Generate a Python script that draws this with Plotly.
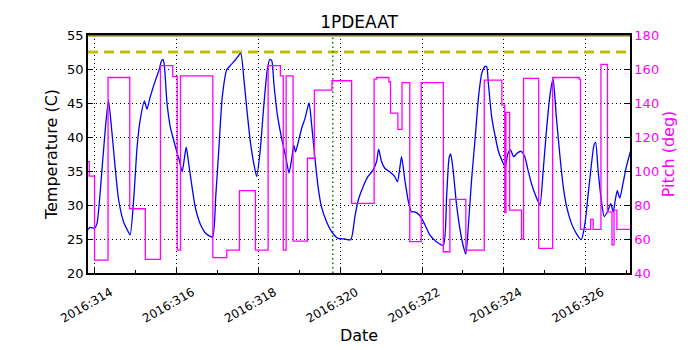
import plotly.graph_objects as go

# ---- data (day of year 2016) ----
temp_day = [313.84, 313.89, 314.0, 314.06, 314.18, 314.26, 314.34, 314.42, 314.51, 314.59, 314.71, 314.82, 314.87,
            314.96, 315.04, 315.12, 315.22, 315.28, 315.36, 315.49, 315.58, 315.63, 315.67, 315.70, 315.77, 315.85,
            315.93, 316.02, 316.07, 316.14, 316.20, 316.24, 316.30, 316.38, 316.45, 316.51, 316.59, 316.72, 316.88,
            316.96, 317.04, 317.12, 317.23, 317.33, 317.45, 317.57, 317.65, 317.73, 317.81, 317.89, 317.96, 318.04,
            318.14, 318.22, 318.28, 318.33, 318.38, 318.46, 318.56, 318.67, 318.75, 318.81, 318.87, 318.91, 318.99,
            319.07, 319.14, 319.24, 319.30, 319.38, 319.46, 319.54, 319.67, 319.79, 319.95, 320.11, 320.26, 320.36,
            320.44, 320.56, 320.68, 320.80, 320.89, 320.94, 321.01, 321.09, 321.21, 321.33, 321.40, 321.46, 321.50,
            321.58, 321.66, 321.74, 321.82, 321.94, 322.07, 322.19, 322.35, 322.52, 322.60, 322.66, 322.70, 322.76,
            322.84, 322.93, 323.01, 323.07, 323.13, 323.21, 323.30, 323.38, 323.46, 323.54, 323.58, 323.62, 323.70,
            323.79, 323.87, 323.95, 324.03, 324.10, 324.16, 324.24, 324.32, 324.42, 324.51, 324.59, 324.67, 324.80,
            324.88, 324.96, 325.04, 325.12, 325.20, 325.28, 325.37, 325.45, 325.53, 325.65, 325.77, 325.89, 325.98,
            326.06, 326.14, 326.20, 326.24, 326.30, 326.38, 326.45, 326.53, 326.61, 326.67, 326.72, 326.77, 326.83,
            326.91, 326.99, 327.10]
temp_c = [26.4, 26.7, 26.6, 27.3, 35.1, 41.0, 45.4, 41.0, 35.1, 30.7, 27.5, 26.1, 25.6,
          31.2, 38.6, 42.7, 45.3, 44.1, 45.9, 48.4, 49.9, 51.1, 51.4, 50.8, 45.0, 41.5,
          39.6, 37.6, 36.6, 34.9, 37.1, 38.5, 36.1, 32.7, 30.0, 28.5, 27.1, 25.8, 25.3,
          31.2, 38.6, 45.9, 49.9, 50.6, 51.4, 52.3, 48.4, 43.5, 39.1, 36.1, 34.2, 37.6,
          45.0, 49.9, 51.4, 51.2, 47.9, 43.5, 40.1, 37.1, 34.7, 36.6, 38.8, 37.8, 39.6,
          41.5, 42.7, 45.0, 42.0, 37.1, 32.7, 29.8, 27.5, 26.1, 25.1, 25.0, 24.9, 28.3,
          30.7, 32.7, 34.2, 35.1, 36.4, 38.2, 36.4, 35.4, 34.9, 34.2, 33.4, 35.6, 37.1,
          33.7, 30.7, 29.0, 29.0, 28.5, 27.1, 25.6, 24.6, 24.1, 31.2, 36.9, 37.5, 35.1,
          30.2, 26.3, 23.9, 22.8, 26.8, 33.7, 40.0, 45.9, 49.4, 50.4, 50.3, 47.9, 43.0,
          40.0, 37.8, 36.6, 35.6, 37.6, 38.1, 37.1, 37.6, 37.9, 37.1, 35.1, 33.2, 31.0,
          30.0, 35.1, 41.0, 45.9, 48.6, 43.0, 37.1, 32.7, 29.8, 27.3, 25.8, 24.9, 27.3,
          31.7, 36.1, 38.8, 39.2, 35.1, 30.7, 28.3, 29.0, 30.2, 29.0, 30.7, 32.1, 31.0,
          33.2, 35.6, 38.1]

pitch_day = [313.84, 313.87, 314.0, 314.33, 314.86, 315.24, 315.61, 315.91, 316.02, 316.10, 316.89, 317.23,
             317.54, 317.93, 318.24, 318.54, 318.61, 318.68, 318.85, 319.20, 319.37, 319.80, 320.28, 320.83,
             320.89, 321.19, 321.23, 321.41, 321.51, 321.70, 321.98, 322.52, 322.68, 323.07, 323.52, 323.95,
             324.02, 324.05, 324.14, 324.43, 324.48, 324.85, 325.19, 325.84, 325.87, 326.12, 326.18, 326.37,
             326.53, 326.64, 326.69, 326.76, 327.10]
pitch_deg = [105.5, 97.0, 47.6, 155.0, 77.8, 48.0, 162.0, 155.5, 53.5, 156.0, 49.0, 53.5,
             88.4, 53.5, 162.0, 156.0, 53.5, 156.0, 58.8, 107.5, 147.6, 153.1, 81.0, 154.0,
             155.0, 152.5, 134.0, 124.5, 152.0, 58.4, 152.0, 52.5, 83.3, 53.5, 153.5, 138.8,
             75.5, 134.5, 77.0, 60.0, 154.5, 54.5, 155.0, 154.0, 65.7, 71.6, 65.7, 162.7,
             76.0, 56.5, 77.0, 65.7, 65.7]

x_range = [313.84, 327.08]
temp_range = [20, 55]
pitch_range = [40, 180]
planning_limit = 52.5
event_day = 319.82

FONT = "DejaVu Sans"
GRID_DASH = "1px,3px"

fig = go.Figure()

fig.add_trace(go.Scatter(x=x_range, y=[planning_limit, planning_limit], mode="lines",
                         line=dict(color="#bfbf00", width=3, dash="10px,6px"), hoverinfo="skip"))
fig.add_trace(go.Scatter(x=[event_day, event_day], y=temp_range, mode="lines",
                         line=dict(color="#008000", width=1.5, dash="1.5px,3px"), hoverinfo="skip"))
fig.add_trace(go.Scatter(x=x_range, y=[temp_range[1], temp_range[1]], mode="lines",
                         line=dict(color="#7a7a00", width=3), hoverinfo="skip", cliponaxis=False))
fig.add_trace(go.Scatter(x=temp_day, y=temp_c, mode="lines", line=dict(color="#0000ff", width=1.3,
                         shape="spline", smoothing=0.6)))
fig.add_trace(go.Scatter(x=pitch_day, y=pitch_deg, mode="lines", yaxis="y2",
                         line=dict(color="#ff00ff", width=1.3, shape="hv")))

fig.update_layout(
    width=700, height=350,
    margin=dict(l=88, r=70, t=35, b=77),
    paper_bgcolor="white", plot_bgcolor="white",
    showlegend=False,
    font=dict(family=FONT, size=13, color="black"),
    title=dict(text="1PDEAAT", xref="paper", x=0.5, xanchor="center", y=0.937, yanchor="middle",
               font=dict(family=FONT, size=17, color="black")),
    xaxis=dict(range=x_range, tick0=314, dtick=2, tickprefix="2016:", tickangle=-30,
               ticks="inside", ticklen=5, tickcolor="black", automargin=False,
               ticklabelshift=16, ticklabelstandoff=6,
               minor=dict(tick0=314, dtick=1, ticks="inside", ticklen=3, tickcolor="black", showgrid=False),
               showline=True, linecolor="black", linewidth=1.5, mirror=True,
               showgrid=True, gridcolor="black", griddash=GRID_DASH, gridwidth=1,
               zeroline=False, title=dict(text="Date", standoff=4),
               tickfont=dict(size=12)),
    yaxis=dict(range=temp_range, dtick=5, ticks="inside", ticklen=5, tickcolor="black",
               showline=True, linecolor="black", linewidth=1.5, mirror=True, automargin=False,
               showgrid=True, gridcolor="black", griddash=GRID_DASH, gridwidth=1,
               zeroline=False, title=dict(text="Temperature (C)", standoff=6)),
    yaxis2=dict(range=pitch_range, dtick=20, overlaying="y", side="right",
                ticks="inside", ticklen=5, tickcolor="black", automargin=False,
                showline=True, linecolor="black", linewidth=1.5,
                showgrid=False, zeroline=False,
                tickfont=dict(color="#ff00ff"),
                title=dict(text="Pitch (deg)", font=dict(color="#ff00ff"), standoff=1)),
)

fig.write_html("out.html", config={"displayModeBar": False},
               post_script="document.body.style.margin='0';")
